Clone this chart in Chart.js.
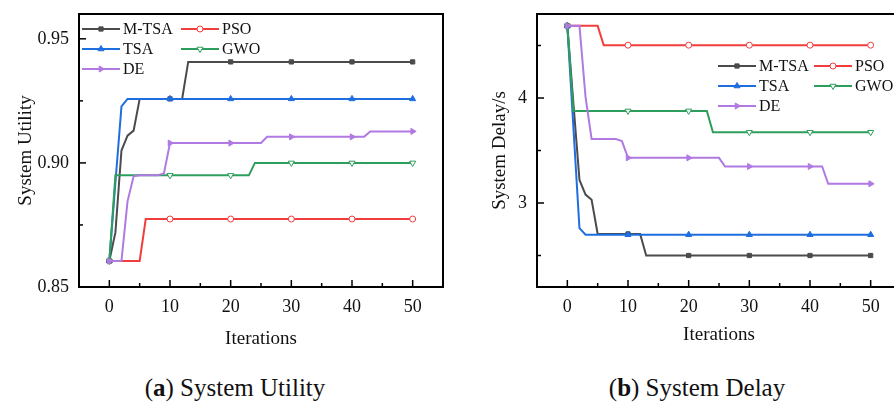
<!DOCTYPE html>
<html>
<head>
<meta charset="utf-8">
<script src="https://cdn.jsdelivr.net/npm/chart.js"></script>
<style>
  html, body { margin: 0; padding: 0; background: #fff; overflow: hidden; }
  body { width: 894px; height: 406px; position: relative; }
  .box { position: absolute; top: 0; height: 350px; }
  #box1 { left: 0; width: 450px; }
  #box2 { left: 450px; width: 460px; }
  .caption { position: absolute; top: 374px; font-family: "Liberation Serif", serif; font-size: 25px; color: #111; transform: translateX(-50%); white-space: nowrap; }
</style>
</head>
<body>
<div class="box" id="box1"><canvas id="utilityChart"></canvas></div>
<div class="box" id="box2"><canvas id="delayChart"></canvas></div>
<div class="caption" style="left:235px">(<b>a</b>) System Utility</div>
<div class="caption" style="left:697px">(<b>b</b>) System Delay</div>
<script>
// ---- data ----
var iterations = [0, 1, 2, 3, 4, 5, 6, 7, 8, 9,
    10, 11, 12, 13, 14, 15, 16, 17, 18, 19,
    20, 21, 22, 23, 24, 25, 26, 27, 28, 29,
    30, 31, 32, 33, 34, 35, 36, 37, 38, 39,
    40, 41, 42, 43, 44, 45, 46, 47, 48, 49,
    50];

var seriesNames = ['M-TSA', 'PSO', 'TSA', 'GWO', 'DE'];

// (a) system utility
var utilMTSA = [0.8605, 0.872, 0.905, 0.911, 0.913, 0.9258, 0.9258, 0.9258, 0.9258, 0.9258,
    0.9258, 0.9258, 0.9258, 0.9407, 0.9407, 0.9407, 0.9407, 0.9407, 0.9407, 0.9407,
    0.9407, 0.9407, 0.9407, 0.9407, 0.9407, 0.9407, 0.9407, 0.9407, 0.9407, 0.9407,
    0.9407, 0.9407, 0.9407, 0.9407, 0.9407, 0.9407, 0.9407, 0.9407, 0.9407, 0.9407,
    0.9407, 0.9407, 0.9407, 0.9407, 0.9407, 0.9407, 0.9407, 0.9407, 0.9407, 0.9407,
    0.9407];
var utilPSO = [0.8605, 0.8605, 0.8605, 0.8605, 0.8605, 0.8605, 0.8774, 0.8774, 0.8774, 0.8774,
    0.8774, 0.8774, 0.8774, 0.8774, 0.8774, 0.8774, 0.8774, 0.8774, 0.8774, 0.8774,
    0.8774, 0.8774, 0.8774, 0.8774, 0.8774, 0.8774, 0.8774, 0.8774, 0.8774, 0.8774,
    0.8774, 0.8774, 0.8774, 0.8774, 0.8774, 0.8774, 0.8774, 0.8774, 0.8774, 0.8774,
    0.8774, 0.8774, 0.8774, 0.8774, 0.8774, 0.8774, 0.8774, 0.8774, 0.8774, 0.8774,
    0.8774];
var utilTSA = [0.8605, 0.892, 0.9228, 0.9258, 0.9258, 0.9258, 0.9258, 0.9258, 0.9258, 0.9258,
    0.9258, 0.9258, 0.9258, 0.9258, 0.9258, 0.9258, 0.9258, 0.9258, 0.9258, 0.9258,
    0.9258, 0.9258, 0.9258, 0.9258, 0.9258, 0.9258, 0.9258, 0.9258, 0.9258, 0.9258,
    0.9258, 0.9258, 0.9258, 0.9258, 0.9258, 0.9258, 0.9258, 0.9258, 0.9258, 0.9258,
    0.9258, 0.9258, 0.9258, 0.9258, 0.9258, 0.9258, 0.9258, 0.9258, 0.9258, 0.9258,
    0.9258];
var utilGWO = [0.8605, 0.895, 0.895, 0.895, 0.895, 0.895, 0.895, 0.895, 0.895, 0.895,
    0.895, 0.895, 0.895, 0.895, 0.895, 0.895, 0.895, 0.895, 0.895, 0.895,
    0.895, 0.895, 0.895, 0.895, 0.900, 0.900, 0.900, 0.900, 0.900, 0.900,
    0.900, 0.900, 0.900, 0.900, 0.900, 0.900, 0.900, 0.900, 0.900, 0.900,
    0.900, 0.900, 0.900, 0.900, 0.900, 0.900, 0.900, 0.900, 0.900, 0.900,
    0.900];
var utilDE = [0.8605, 0.8605, 0.8605, 0.8845, 0.8946, 0.895, 0.895, 0.895, 0.895, 0.8958,
    0.908, 0.908, 0.908, 0.908, 0.908, 0.908, 0.908, 0.908, 0.908, 0.908,
    0.908, 0.908, 0.908, 0.908, 0.908, 0.908, 0.9105, 0.9105, 0.9105, 0.9105,
    0.9105, 0.9105, 0.9105, 0.9105, 0.9105, 0.9105, 0.9105, 0.9105, 0.9105, 0.9105,
    0.9105, 0.9105, 0.9105, 0.9127, 0.9127, 0.9127, 0.9127, 0.9127, 0.9127, 0.9127,
    0.9127];

// (b) system delay
var delayMTSA = [4.687, 3.95, 3.22, 3.08, 3.03, 2.705, 2.705, 2.705, 2.705, 2.705,
    2.705, 2.705, 2.705, 2.5, 2.5, 2.5, 2.5, 2.5, 2.5, 2.5,
    2.5, 2.5, 2.5, 2.5, 2.5, 2.5, 2.5, 2.5, 2.5, 2.5,
    2.5, 2.5, 2.5, 2.5, 2.5, 2.5, 2.5, 2.5, 2.5, 2.5,
    2.5, 2.5, 2.5, 2.5, 2.5, 2.5, 2.5, 2.5, 2.5, 2.5,
    2.5];
var delayPSO = [4.687, 4.687, 4.687, 4.687, 4.687, 4.687, 4.503, 4.503, 4.503, 4.503,
    4.503, 4.503, 4.503, 4.503, 4.503, 4.503, 4.503, 4.503, 4.503, 4.503,
    4.503, 4.503, 4.503, 4.503, 4.503, 4.503, 4.503, 4.503, 4.503, 4.503,
    4.503, 4.503, 4.503, 4.503, 4.503, 4.503, 4.503, 4.503, 4.503, 4.503,
    4.503, 4.503, 4.503, 4.503, 4.503, 4.503, 4.503, 4.503, 4.503, 4.503,
    4.503];
var delayTSA = [4.687, 3.72, 2.76, 2.698, 2.698, 2.698, 2.698, 2.698, 2.698, 2.698,
    2.698, 2.698, 2.698, 2.698, 2.698, 2.698, 2.698, 2.698, 2.698, 2.698,
    2.698, 2.698, 2.698, 2.698, 2.698, 2.698, 2.698, 2.698, 2.698, 2.698,
    2.698, 2.698, 2.698, 2.698, 2.698, 2.698, 2.698, 2.698, 2.698, 2.698,
    2.698, 2.698, 2.698, 2.698, 2.698, 2.698, 2.698, 2.698, 2.698, 2.698,
    2.698];
var delayGWO = [4.687, 3.877, 3.877, 3.877, 3.877, 3.877, 3.877, 3.877, 3.877, 3.877,
    3.877, 3.877, 3.877, 3.877, 3.877, 3.877, 3.877, 3.877, 3.877, 3.877,
    3.877, 3.877, 3.877, 3.877, 3.674, 3.674, 3.674, 3.674, 3.674, 3.674,
    3.674, 3.674, 3.674, 3.674, 3.674, 3.674, 3.674, 3.674, 3.674, 3.674,
    3.674, 3.674, 3.674, 3.674, 3.674, 3.674, 3.674, 3.674, 3.674, 3.674,
    3.674];
var delayDE = [4.687, 4.687, 4.687, 4.01, 3.61, 3.61, 3.61, 3.61, 3.61, 3.59,
    3.43, 3.43, 3.43, 3.43, 3.43, 3.43, 3.43, 3.43, 3.43, 3.43,
    3.43, 3.43, 3.43, 3.43, 3.43, 3.43, 3.348, 3.348, 3.348, 3.348,
    3.348, 3.348, 3.348, 3.348, 3.348, 3.348, 3.348, 3.348, 3.348, 3.348,
    3.348, 3.348, 3.348, 3.183, 3.183, 3.183, 3.183, 3.183, 3.183, 3.183,
    3.183];

// tick values
var xMajorTicks = [0, 10, 20, 30, 40, 50];
var xMinorTicks = [5, 15, 25, 35, 45];
var utilMajorTicks = [0.85, 0.90, 0.95];
var utilMinorTicks = [0.875, 0.925];
var delayMajorTicks = [3, 4];
var delayMinorTicks = [2.5, 3.5, 4.5];

// ---- styles ----
var styles = [
    { color: '#4b4b4b', fill: '#4b4b4b', pointStyle: 'rect', radius: 3, rotation: 0 },
    { color: '#f23d3d', fill: '#ffffff', pointStyle: 'circle', radius: 3, rotation: 0 },
    { color: '#1f6ee0', fill: '#1f6ee0', pointStyle: 'triangle', radius: 3.5, rotation: 0 },
    { color: '#2e9e5c', fill: '#ffffff', pointStyle: 'triangle', radius: 3.5, rotation: 180 },
    { color: '#b07ae2', fill: '#b07ae2', pointStyle: 'triangle', radius: 3.5, rotation: 90 }
];

var serif = '"Liberation Serif", "Times New Roman", serif';
Chart.defaults.color = '#111';
Chart.defaults.font.family = serif;

function makeDatasets(seriesList) {
    return seriesList.map(function (values, i) {
        var s = styles[i];
        return {
            label: seriesNames[i],
            data: values.map(function (v, k) { return { x: iterations[k], y: v }; }),
            borderColor: s.color,
            backgroundColor: s.fill,
            borderWidth: 2,
            tension: 0,
            pointStyle: s.pointStyle,
            pointRotation: s.rotation,
            pointBackgroundColor: s.fill,
            pointBorderColor: s.color,
            pointBorderWidth: 1,
            pointRadius: function (ctx) { return xMajorTicks.indexOf(iterations[ctx.dataIndex]) >= 0 ? s.radius : 0; },
            pointHoverRadius: 0,
            order: seriesList.length - i
        };
    });
}

function drawMarker(ctx, s, x, y) {
    ctx.fillStyle = s.fill;
    ctx.strokeStyle = s.color;
    ctx.lineWidth = 1;
    if (Chart.helpers && Chart.helpers.drawPoint) {
        Chart.helpers.drawPoint(ctx, { pointStyle: s.pointStyle, radius: s.radius, rotation: s.rotation, borderWidth: 1 }, x, y);
    } else {
        ctx.beginPath();
        ctx.arc(x, y, s.radius, 0, Math.PI * 2);
        ctx.fill();
        ctx.stroke();
    }
}

// frame with inward ticks, like the original plot
var frameTicks = {
    id: 'frameTicks',
    afterDraw: function (chart, args, opts) {
        var ctx = chart.ctx, a = chart.chartArea;
        var xs = chart.scales.x, ys = chart.scales.y;
        ctx.save();
        ctx.strokeStyle = '#000';
        ctx.lineWidth = 1.5;
        function tick(x1, y1, x2, y2) {
            ctx.beginPath();
            ctx.moveTo(x1, y1);
            ctx.lineTo(x2, y2);
            ctx.stroke();
        }
        xMajorTicks.forEach(function (v) { var p = xs.getPixelForValue(v); tick(p, a.bottom, p, a.bottom - 7); });
        xMinorTicks.forEach(function (v) { var p = xs.getPixelForValue(v); tick(p, a.bottom, p, a.bottom - 4); });
        opts.yMajor.forEach(function (v) { var p = ys.getPixelForValue(v); tick(a.left, p, a.left + 7, p); });
        opts.yMinor.forEach(function (v) { var p = ys.getPixelForValue(v); tick(a.left, p, a.left + 4, p); });
        ctx.lineWidth = 2;
        ctx.strokeRect(a.left, a.top, a.right - a.left, a.bottom - a.top);
        ctx.restore();
    }
};

// two-column legend drawn inside the plot
var insideLegend = {
    id: 'insideLegend',
    afterDraw: function (chart, args, opts) {
        var ctx = chart.ctx, a = chart.chartArea;
        ctx.save();
        chart.data.datasets.forEach(function (ds, i) {
            var col = i % 2, row = Math.floor(i / 2);
            var x0 = a.left + opts.cols[col];
            var y0 = a.top + opts.rows[row];
            var x1 = x0 + opts.lineLen;
            ctx.strokeStyle = styles[i].color;
            ctx.lineWidth = 2;
            ctx.beginPath();
            ctx.moveTo(x0, y0);
            ctx.lineTo(x1, y0);
            ctx.stroke();
            drawMarker(ctx, styles[i], (x0 + x1) / 2, y0);
            ctx.fillStyle = '#111';
            ctx.font = '16px ' + serif;
            ctx.textBaseline = 'middle';
            ctx.textAlign = 'left';
            ctx.fillText(ds.label, x1 + 3, y0 + 1);
        });
        ctx.restore();
    }
};

function makeChart(id, datasets, cfg) {
    var ctx = document.getElementById(id).getContext('2d');
    return new Chart(ctx, {
        type: 'line',
        data: { datasets: datasets },
        options: {
            responsive: true,
            maintainAspectRatio: false,
            animation: false,
            events: [],
            layout: { padding: { top: 14, right: cfg.padRight, left: 0, bottom: 0 } },
            plugins: {
                legend: { display: false },
                tooltip: { enabled: false },
                frameTicks: { yMajor: cfg.yMajor, yMinor: cfg.yMinor },
                insideLegend: cfg.legend
            },
            scales: {
                x: {
                    type: 'linear',
                    min: -5,
                    max: 55,
                    afterBuildTicks: function (scale) { scale.ticks = xMajorTicks.map(function (v) { return { value: v }; }); },
                    afterFit: function (scale) { scale.height = 63; scale.paddingLeft = 0; scale.paddingRight = 0; },
                    grid: { display: false, drawTicks: false },
                    border: { display: false },
                    ticks: { padding: 9, maxRotation: 0, font: { size: 18 }, color: '#111' },
                    title: { display: true, text: 'Iterations', font: { size: 19 }, color: '#111', padding: { top: 0, bottom: cfg.xTitlePad } }
                },
                y: {
                    min: cfg.yMin,
                    max: cfg.yMax,
                    afterBuildTicks: function (scale) { scale.ticks = cfg.yMajor.map(function (v) { return { value: v }; }); },
                    afterFit: function (scale) { scale.width = cfg.yWidth; scale.paddingTop = 0; scale.paddingBottom = 0; },
                    grid: { display: false, drawTicks: false },
                    border: { display: false },
                    ticks: {
                        padding: 10,
                        font: { size: 18 },
                        color: '#111',
                        callback: function (v) { return v.toFixed(cfg.decimals); }
                    },
                    title: { display: true, text: cfg.yTitle, font: { size: 19 }, color: '#111', padding: { top: cfg.yTitlePad, bottom: 0 } }
                }
            }
        },
        plugins: [frameTicks, insideLegend]
    });
}

document.addEventListener('DOMContentLoaded', function () {
    makeChart('utilityChart', makeDatasets([utilMTSA, utilPSO, utilTSA, utilGWO, utilDE]), {
        yMin: 0.85, yMax: 0.96, yMajor: utilMajorTicks, yMinor: utilMinorTicks, decimals: 2,
        yTitle: 'System Utility', yWidth: 79, yTitlePad: 15, padRight: 7, xTitlePad: 0,
        legend: { cols: [3, 102], rows: [15, 35, 55], lineLen: 38 }
    });
    makeChart('delayChart', makeDatasets([delayMTSA, delayPSO, delayTSA, delayGWO, delayDE]), {
        yMin: 2.2, yMax: 4.8, yMajor: delayMajorTicks, yMinor: delayMinorTicks, decimals: 0,
        yTitle: 'System Delay/s', yWidth: 87, yTitlePad: 39, padRight: 9, xTitlePad: 4,
        legend: { cols: [181, 277], rows: [52, 72, 92], lineLen: 38 }
    });
});
</script>
</body>
</html>
